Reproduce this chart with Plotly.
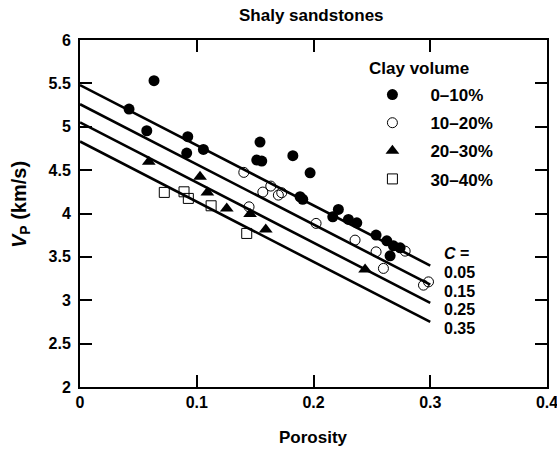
import plotly.graph_objects as go

# ---- data ----
clay_classes = ["0–10%", "10–20%", "20–30%", "30–40%"]

phi_0_10 = [0.0420, 0.0634, 0.0572, 0.0923, 0.0914, 0.1057, 0.1542, 0.1514, 0.1557,
            0.1823, 0.1971, 0.1885, 0.1908, 0.2213, 0.2165, 0.2299, 0.2371, 0.2536,
            0.2628, 0.2685, 0.2742, 0.2656]
vp_0_10 = [5.204, 5.531, 4.954, 4.885, 4.697, 4.739, 4.824, 4.616, 4.604,
           4.666, 4.469, 4.193, 4.163, 4.047, 3.962, 3.932, 3.893, 3.751,
           3.685, 3.627, 3.604, 3.512]

phi_10_20 = [0.1403, 0.1634, 0.1566, 0.1699, 0.1728, 0.1448, 0.2022, 0.2356, 0.2536,
             0.2785, 0.2599, 0.2942, 0.2985]
vp_10_20 = [4.474, 4.316, 4.247, 4.212, 4.239, 4.077, 3.886, 3.693, 3.558,
            3.566, 3.367, 3.174, 3.212]

phi_20_30 = [0.0589, 0.1028, 0.1091, 0.1257, 0.1457, 0.1591, 0.2442]
vp_20_30 = [4.596, 4.423, 4.243, 4.059, 3.993, 3.817, 3.355]

phi_30_40 = [0.0722, 0.0891, 0.0928, 0.1123, 0.1428]
vp_30_40 = [4.243, 4.250, 4.174, 4.089, 3.770]

# model lines (Vp at porosity 0 and at porosity 0.3) for each clay content C
c_values = ["0.05", "0.15", "0.25", "0.35"]
line_phi = [0.0, 0.3]
line_start = [5.48, 5.26, 5.05, 4.83]
line_end = [3.40, 3.18, 2.97, 2.75]

x_ticks = [0, 0.1, 0.2, 0.3, 0.4]
y_ticks = [2, 2.5, 3, 3.5, 4, 4.5, 5, 5.5, 6]

FONT = "Liberation Sans, Arial, sans-serif"

fig = go.Figure()

for i in range(len(c_values)):
    fig.add_trace(go.Scatter(
        x=line_phi, y=[line_start[i], line_end[i]], mode="lines",
        line=dict(color="black", width=2.6), showlegend=False, hoverinfo="skip"))

series = [
    (phi_0_10, vp_0_10, dict(symbol="circle", size=11, color="black",
                             line=dict(color="black", width=0))),
    (phi_10_20, vp_10_20, dict(symbol="circle-open", size=10, color="black",
                               line=dict(color="black", width=1))),
    (phi_20_30, vp_20_30, dict(symbol="triangle-up", size=12, color="black",
                               line=dict(color="black", width=0))),
    (phi_30_40, vp_30_40, dict(symbol="square-open", size=10, color="black",
                               line=dict(color="black", width=1))),
]
for name, (xs, ys, mk) in zip(clay_classes, series):
    fig.add_trace(go.Scatter(
        x=xs, y=ys, mode="markers", name=name, marker=mk,
        legendgroup=name, showlegend=True))

annotations = []
annotations.append(dict(x=0.31, y=line_end[0] + 0.14, xref="x", yref="y",
                        text="<i>C</i> =", showarrow=False,
                        xanchor="left", yanchor="middle",
                        font=dict(family=FONT, size=16, color="black", weight="bold")))
for i, c in enumerate(c_values):
    annotations.append(dict(x=0.31, y=line_end[i] - 0.075, xref="x", yref="y",
                            text=c, showarrow=False,
                            xanchor="left", yanchor="middle",
                            font=dict(family=FONT, size=16, color="black", weight="bold")))
annotations.append(dict(x=0.7253, y=0.918, xref="paper", yref="paper",
                        text="Clay volume", showarrow=False,
                        xanchor="center", yanchor="middle",
                        font=dict(family=FONT, size=17, color="black", weight="bold")))
annotations.append(dict(x=0.5, y=-0.145, xref="paper", yref="paper",
                        text="Porosity", showarrow=False,
                        xanchor="center", yanchor="middle",
                        font=dict(family=FONT, size=17, color="black", weight="bold")))
annotations.append(dict(x=-0.1286, y=0.527, xref="paper", yref="paper",
                        text="<i>V</i><sub>P</sub> (km/s)", showarrow=False,
                        textangle=-90, xanchor="center", yanchor="middle",
                        font=dict(family=FONT, size=20, color="black", weight="bold")))
annotations.append(dict(x=0.495, y=1.072, xref="paper", yref="paper",
                        text="Shaly sandstones", showarrow=False,
                        xanchor="center", yanchor="middle",
                        font=dict(family=FONT, size=17, color="black", weight="bold")))

axis_common = dict(showgrid=False, zeroline=False, showline=True, linecolor="black",
                   linewidth=2, mirror="allticks", ticks="inside", ticklen=12,
                   tickwidth=1.5, tickcolor="black", automargin=False,
                   ticklabeloverflow="allow",
                   tickfont=dict(family=FONT, size=16, color="black", weight="bold"))

fig.update_layout(
    width=557, height=450,
    margin=dict(l=80, r=10, t=40, b=63),
    paper_bgcolor="white", plot_bgcolor="white",
    xaxis=dict(range=[0, 0.4], tickvals=x_ticks,
               ticktext=[f"{v:g}" for v in x_ticks], **axis_common),
    yaxis=dict(range=[2, 6], tickvals=y_ticks,
               ticktext=[f"{v:g}" for v in y_ticks],
               ticklabelstandoff=4, **axis_common),
    legend=dict(x=0.5876, y=0.8932, xanchor="left", yanchor="top",
                bgcolor="rgba(0,0,0,0)", itemwidth=66, tracegroupgap=3,
                font=dict(family=FONT, size=17, color="black", weight="bold"),
                traceorder="grouped"),
    annotations=annotations,
    showlegend=True,
)

fig.write_html("out.html")
